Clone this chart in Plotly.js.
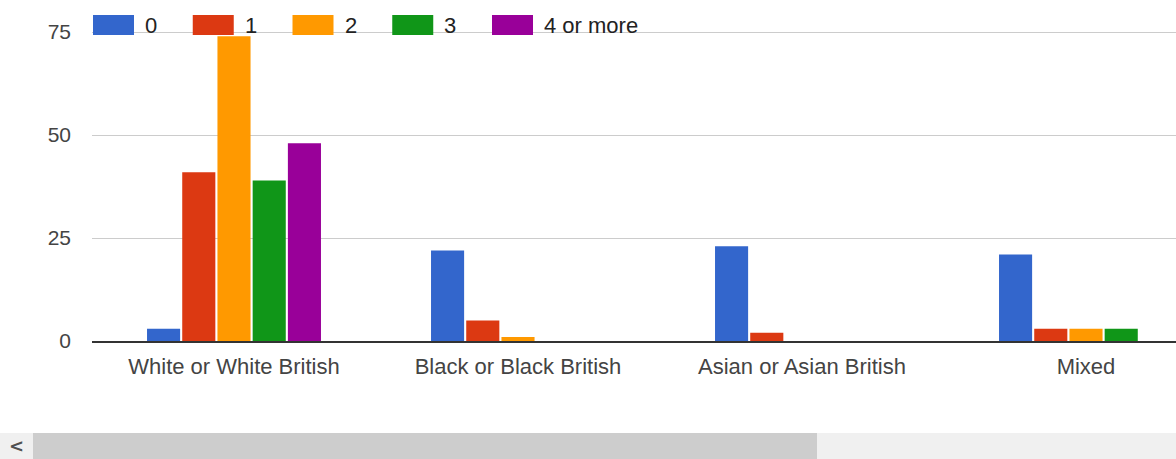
<!DOCTYPE html>
<html>
<head>
<meta charset="utf-8">
<script src="https://cdn.plot.ly/plotly-3.0.1.min.js"></script>
<style>html,body{margin:0;padding:0;background:#fff;}#chart{width:1176px;height:459px;}</style>
</head>
<body>
<div id="chart"></div>
<script>
// ---- data ----
const categories = ["White or White British", "Black or Black British", "Asian or Asian British", "Mixed"];
const seriesNames = ["0", "1", "2", "3", "4 or more"];
const values0 = [3, 22, 23, 21];
const values1 = [41, 5, 2, 3];
const values2 = [74, 1, 0, 3];
const values3 = [39, 0, 0, 3];
const values4 = [48, 0, 0, 0];
const yTicks = [0, 25, 50, 75];
const colors = ["#3366cc", "#dc3912", "#ff9900", "#109618", "#990099"];

const allValues = [values0, values1, values2, values3, values4];

// ---- geometry (pixels) ----
const W = 1176, H = 459;
const L = 92, B = 341;                    // left edge and baseline in pixels
const Y75 = 32;                           // pixel row of the 75 gridline
const YMAX = 76;
const unit = (B - Y75) / 75;
const T = B - YMAX * unit;                // top of plot area
const PW = W - L, PH = B - T;
const px = x => (x - L) / PW;             // pixel -> paper x
const py = y => (B - y) / PH;             // pixel -> paper y
const FONT = "Liberation Sans, Arial, sans-serif";

const traces = allValues.map((vals, i) => ({
  type: "bar",
  name: seriesNames[i],
  x: categories,
  y: vals,
  marker: { color: colors[i], line: { width: 0 } },
  showlegend: false,
  hoverinfo: "x+y+name"
}));

// custom legend (wide swatches like the original)
const shapes = [];
const annotations = [];
const legendStart = 93, legendStep = 99.75, swW = 41;
seriesNames.forEach((n, i) => {
  const x0 = legendStart + i * legendStep;
  shapes.push({
    type: "rect", xref: "paper", yref: "paper",
    x0: px(x0), x1: px(x0 + swW), y0: py(35), y1: py(15),
    fillcolor: colors[i], line: { width: 0 }, layer: "above"
  });
  annotations.push({
    xref: "paper", yref: "paper", x: px(x0 + swW + 10), y: py(25.5),
    xanchor: "left", yanchor: "middle", showarrow: false,
    text: n, borderpad: 0,
    font: { family: FONT, size: 22, color: "#222222" }
  });
});

// scrollbar below the chart
shapes.push({ type: "rect", xref: "paper", yref: "paper",
  x0: px(0), x1: px(W), y0: py(459), y1: py(433),
  fillcolor: "#f0f0f0", line: { width: 0 } });
shapes.push({ type: "rect", xref: "paper", yref: "paper",
  x0: px(33), x1: px(817), y0: py(459), y1: py(433),
  fillcolor: "#cdcdcd", line: { width: 0 } });
annotations.push({
  xref: "paper", yref: "paper", x: px(16), y: py(446),
  xanchor: "center", yanchor: "middle", showarrow: false,
  text: "<b>&lt;</b>", font: { family: "DejaVu Sans, sans-serif", size: 18, color: "#505050" }
});

const layout = {
  width: W, height: H,
  margin: { l: L, r: 0, t: T, b: H - B, pad: 0 },
  paper_bgcolor: "#ffffff", plot_bgcolor: "#ffffff",
  font: { family: FONT, size: 22, color: "#444444" },
  barmode: "group",
  bargap: 0.38,
  bargroupgap: 0.06,
  xaxis: {
    type: "category",
    range: [-0.5, -0.5 + PW / 284],
    showgrid: false, zeroline: false,
    showline: true, linecolor: "#333333", linewidth: 2,
    ticks: "", ticklabelstandoff: 5,
    tickfont: { family: FONT, size: 22, color: "#444444" },
    fixedrange: true
  },
  yaxis: {
    range: [0, YMAX],
    tickvals: yTicks,
    ticktext: yTicks.map(String),
    showgrid: true, gridcolor: "#cccccc", gridwidth: 1,
    zeroline: false, showline: false,
    ticks: "", ticklabelstandoff: 20,
    tickfont: { family: FONT, size: 21, color: "#444444" },
    fixedrange: true
  },
  shapes: shapes,
  annotations: annotations,
  showlegend: false
};

Plotly.newPlot("chart", traces, layout, { displayModeBar: false, staticPlot: true });
</script>
</body>
</html>
